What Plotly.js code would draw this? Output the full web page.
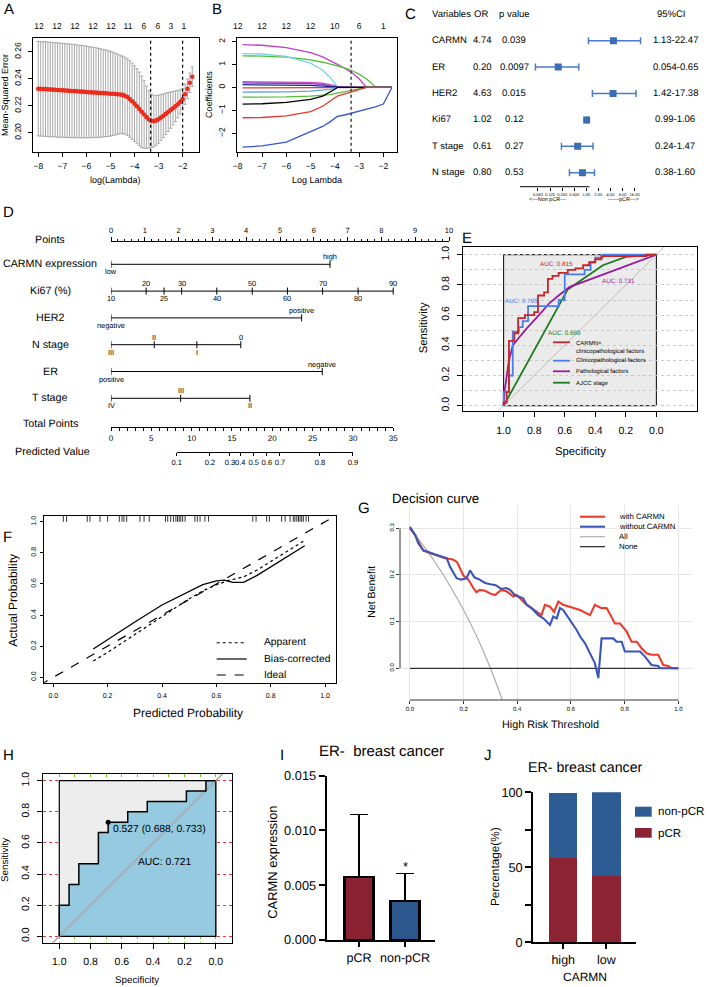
<!DOCTYPE html>
<html>
<head>
<meta charset="utf-8">
<script src="https://cdn.plot.ly/plotly-3.0.1.min.js"></script>
<style>
html,body{margin:0;padding:0;background:#ffffff;}
#chart{width:709px;height:987px;}
svg text{text-rendering:geometricPrecision;}
</style>
</head>
<body>
<div id="chart"></div>
<script>
// ================= DATA =================
// A: LASSO cross-validation
const cvLogLambda = [-8.0,-7.9,-7.8,-7.7,-7.6,-7.5,-7.4,-7.3,-7.2,-7.1,-7.0,-6.9,-6.8,-6.7,-6.6,-6.5,-6.4,-6.3,-6.2,-6.1,-6.0,-5.9,-5.8,-5.7,-5.6,-5.5,-5.4,-5.3,-5.2,-5.1,-5.0,-4.9,-4.8,-4.7,-4.6,-4.5,-4.4,-4.3,-4.2,-4.1,-4.0,-3.9,-3.8,-3.7,-3.6,-3.5,-3.4,-3.3,-3.2,-3.1,-3.0,-2.9,-2.8,-2.7,-2.6,-2.5,-2.4,-2.3,-2.2,-2.1,-2.0,-1.9,-1.8,-1.7,-1.6];
const cvMSE = [0.2326,0.2325,0.2324,0.2323,0.2321,0.2320,0.2319,0.2318,0.2316,0.2315,0.2314,0.2313,0.2312,0.2310,0.2309,0.2308,0.2307,0.2305,0.2304,0.2303,0.2302,0.2300,0.2299,0.2298,0.2297,0.2295,0.2294,0.2293,0.2292,0.2290,0.2289,0.2288,0.2287,0.2285,0.2283,0.2280,0.2274,0.2264,0.2250,0.2233,0.2215,0.2196,0.2176,0.2155,0.2135,0.2115,0.2098,0.2088,0.2086,0.2091,0.2100,0.2112,0.2125,0.2139,0.2153,0.2167,0.2181,0.2196,0.2211,0.2228,0.2248,0.2285,0.2325,0.2370,0.2415];
const cvSD = [0.0350,0.0350,0.0350,0.0350,0.0350,0.0350,0.0350,0.0349,0.0349,0.0349,0.0348,0.0348,0.0347,0.0347,0.0346,0.0345,0.0344,0.0343,0.0342,0.0341,0.0340,0.0338,0.0336,0.0334,0.0332,0.0330,0.0327,0.0324,0.0321,0.0318,0.0314,0.0309,0.0303,0.0297,0.0291,0.0287,0.0285,0.0284,0.0284,0.0283,0.0281,0.0278,0.0273,0.0265,0.0250,0.0230,0.0212,0.0199,0.0191,0.0185,0.0178,0.0170,0.0162,0.0153,0.0144,0.0134,0.0124,0.0113,0.0101,0.0089,0.0078,0.0075,0.0073,0.0072,0.0072];
const cvTopPos = [-7.97,-7.22,-6.48,-5.73,-4.98,-4.27,-3.61,-3.03,-2.49,-1.95];
const cvTopDf = ['12','12','12','12','12','11','6','6','3','1'];
const cvLambdaMin = -3.33;
const cvLambda1se = -2.0;

// B: coefficient paths
const pathLogLambda = [-7.8,-7.0,-6.0,-5.0,-4.5,-4.2,-4.0,-3.9,-3.6,-3.3,-3.0,-2.7,-2.3,-2.0,-1.65];
const coefPath01 = [1.87,1.84,1.74,1.52,1.33,1.18,1.07,1.01,0.84,0.65,0.38,0,0,0,0];
const coefPath02 = [1.38,1.37,1.32,1.20,1.10,1.03,0.97,0.94,0.85,0.74,0.58,0.38,0,0,0];
const coefPath03 = [1.48,1.46,1.36,1.06,0.75,0.45,0.18,0,0,0,0,0,0,0,0];
const coefPath04 = [0.25,0.25,0.24,0.22,0.19,0.14,0.08,0.05,0.03,0.02,0.01,0,0,0,0];
const coefPath05 = [0.20,0.20,0.19,0.17,0.13,0.08,0.03,0,0,0,0,0,0,0,0];
const coefPath06 = [0.12,0.12,0.11,0.09,0.06,0.03,0.01,0,0,0,0,0,0,0,0];
const coefPath07 = [-0.02,-0.02,-0.02,-0.02,-0.01,0,0,0,0,0,0,0,0,0,0];
const coefPath08 = [-0.20,-0.20,-0.19,-0.16,-0.12,-0.08,-0.04,0,0,0,0,0,0,0,0];
const coefPath09 = [-0.42,-0.42,-0.41,-0.38,-0.35,-0.31,-0.27,-0.25,-0.19,-0.12,-0.05,0,0,0,0];
const coefPath10 = [-0.73,-0.71,-0.65,-0.52,-0.38,-0.22,-0.08,0,0,0,0,0,0,0,0];
const coefPath11 = [-1.32,-1.31,-1.24,-1.05,-0.82,-0.62,-0.45,-0.38,-0.28,-0.20,-0.10,0,0,0,0];
const coefPath12 = [-2.60,-2.55,-2.38,-1.95,-1.70,-1.50,-1.32,-1.26,-1.20,-1.12,-1.03,-0.95,-0.83,-0.72,0];
const pathColors = ['#C23EC2','#52BE38','#72D5E6','#D04AC8','#8B3CC4','#1B2A8C','#E33A2B','#5BA6EA','#52BE38','#000000','#E33A2B','#3657C8'];
const pathTopPos = [-8,-7,-6,-5,-4,-3,-2];
const pathTopDf = ['12','12','12','12','10','6','1'];

// C: forest plot
const forestVars = ['CARMN','ER','HER2','Ki67','T stage','N stage'];
const forestOR = [4.74,0.20,4.63,1.02,0.61,0.80];
const forestORText = ['4.74','0.20','4.63','1.02','0.61','0.80'];
const forestPText = ['0.039','0.0097','0.015','0.12','0.27','0.53'];
const forestLo = [1.13,0.054,1.42,0.99,0.24,0.38];
const forestHi = [22.47,0.65,17.38,1.06,1.47,1.60];
const forestCIText = ['1.13-22.47','0.054-0.65','1.42-17.38','0.99-1.06','0.24-1.47','0.38-1.60'];
const forestTicks = [0.0625,0.125,0.25,0.5,1,2,4,8,16];
const forestTickText = ['0.063','0.125','0.250','0.500','1.00','2.00','4.00','8.00','16.00'];

// D: nomogram (positions in "Points" units)
const nomoCarmnPts = [0,6.48];   const nomoCarmnLab = ['low','high'];          const nomoCarmnSide = ['below','above'];
const nomoKi67Pts = [0,1.04,1.57,2.09,3.13,4.18,5.22,6.26,7.31,8.35];
const nomoKi67Lab = ['10','20','25','30','40','50','60','70','80','90'];
const nomoKi67Side = ['below','above','below','above','below','above','below','above','below','above'];
const nomoHer2Pts = [0,5.64];    const nomoHer2Lab = ['negative','positive'];  const nomoHer2Side = ['below','above'];
const nomoNPts = [0,1.28,2.54,3.84]; const nomoNLab = ['III','II','I','0'];    const nomoNSide = ['below','above','below','above'];
const nomoErPts = [0,6.25];      const nomoErLab = ['positive','negative'];    const nomoErSide = ['below','above'];
const nomoTPts = [0,2.06,4.11];  const nomoTLab = ['IV','III','II'];           const nomoTSide = ['below','above','below'];
const nomoTotalMax = 35;
const nomoPredPts = [8.15,12.27,14.75,16.03,17.70,19.32,20.95,25.91,30.0];
const nomoPredLab = ['0.1','0.2','0.3','0.4','0.5','0.6','0.7','0.8','0.9'];

// E: ROC curves (specificity, sensitivity)
const rocRedSpec = [1,0.98,0.965,0.93,0.905,0.86,0.80,0.775,0.735,0.71,0.68,0.64,0.58,0.53,0.48,0.44,0.40,0.36,0.065,0];
const rocRedSens = [0,0.02,0.09,0.43,0.48,0.58,0.60,0.62,0.73,0.75,0.84,0.86,0.88,0.90,0.91,0.93,0.95,0.97,0.99,1.0];
const rocBlueSpec = [1,0.965,0.94,0.90,0.875,0.84,0.64,0.60,0.47,0.43,0.40,0.35,0];
const rocBlueSens = [0,0.09,0.20,0.49,0.52,0.56,0.66,0.70,0.87,0.90,0.95,0.98,1.0];
const rocPurpleSpec = [1,0.995,0.965,0.94,0.90,0.85,0.76,0.70,0.64,0.57,0];
const rocPurpleSens = [0,0.09,0.30,0.40,0.45,0.51,0.61,0.68,0.73,0.785,1.0];
const rocGreenSpec = [1,0.58,0.35,0.20,0];
const rocGreenSens = [0,0.77,0.93,0.985,1.0];
const rocAUCText = ['AUC: 0.815','AUC: 0.795','AUC: 0.731','AUC: 0.689'];
const rocLegend = ['CARMN+','clinicopathological factors','Clinicopathological factors','Pathological factors','AJCC stage'];

// F: calibration
const calApparentX = [0.147,0.20,0.30,0.40,0.50,0.55,0.60,0.65,0.70,0.75,0.80,0.85,0.90,0.925];
const calApparentY = [0.105,0.16,0.275,0.39,0.505,0.555,0.595,0.625,0.645,0.69,0.745,0.80,0.855,0.88];
const calBiasX = [0.147,0.20,0.30,0.40,0.50,0.55,0.60,0.63,0.66,0.70,0.75,0.80,0.85,0.90,0.925];
const calBiasY = [0.182,0.24,0.355,0.465,0.555,0.595,0.62,0.625,0.61,0.61,0.655,0.71,0.765,0.82,0.845];
const calIdeal = [-0.05,1.05];
const calRug = [0.037,0.049,0.125,0.135,0.172,0.20,0.243,0.253,0.26,0.27,0.319,0.334,0.353,0.413,0.421,0.432,0.442,0.451,0.457,0.463,0.469,0.476,0.485,0.521,0.53,0.54,0.558,0.571,0.734,0.746,0.785,0.795,0.84,0.853,0.871,0.883,0.889,0.896,0.902,0.908,0.914,0.92,0.93,0.939];

// G: decision curve
const dcaRedX = [0,0.02,0.035,0.05,0.08,0.10,0.13,0.16,0.175,0.19,0.20,0.21,0.22,0.236,0.248,0.26,0.28,0.30,0.317,0.34,0.36,0.385,0.397,0.41,0.429,0.453,0.49,0.503,0.522,0.537,0.553,0.571,0.596,0.634,0.671,0.689,0.714,0.733,0.764,0.783,0.807,0.826,0.845,0.863,0.882,0.90,0.925,0.944,0.963,0.975,1.0];
const dcaRedY = [0.30,0.285,0.268,0.252,0.246,0.242,0.236,0.233,0.228,0.21,0.198,0.195,0.188,0.172,0.163,0.168,0.166,0.16,0.157,0.168,0.165,0.154,0.157,0.15,0.139,0.129,0.114,0.136,0.132,0.121,0.143,0.136,0.132,0.125,0.114,0.136,0.129,0.129,0.096,0.096,0.079,0.057,0.057,0.043,0.032,0.029,0.029,0.007,0.005,0.0,0.0];
const dcaBlueX = [0,0.02,0.031,0.05,0.10,0.137,0.149,0.174,0.19,0.211,0.224,0.24,0.26,0.28,0.30,0.32,0.34,0.36,0.373,0.391,0.404,0.422,0.435,0.453,0.478,0.497,0.522,0.534,0.547,0.559,0.571,0.584,0.602,0.621,0.634,0.652,0.671,0.689,0.702,0.714,0.758,0.770,0.789,0.801,0.857,0.876,0.90,0.925,0.932,1.0];
const dcaBlueY = [0.303,0.285,0.268,0.253,0.243,0.236,0.218,0.193,0.19,0.193,0.21,0.195,0.19,0.183,0.18,0.178,0.17,0.172,0.168,0.157,0.154,0.15,0.136,0.129,0.114,0.107,0.093,0.111,0.107,0.129,0.125,0.114,0.096,0.082,0.068,0.054,0.032,0.011,-0.021,0.064,0.064,0.057,0.057,0.036,0.036,0.025,0.007,0.005,0.0,0.0];
const dcaAllX = [0,0.05,0.10,0.15,0.20,0.25,0.30,0.35];
const dcaAllY = [0.30,0.263,0.222,0.176,0.125,0.067,0.0,-0.077];
const dcaNoneX = [0,1];
const dcaNoneY = [0,0];
const dcaLegend = ['with CARMN','without CARMN','All','None'];

// H: ROC in ER- cohort
const rocHSpec = [1,0.9375,0.875,0.75,0.6875,0.5625,0.4375,0.1875,0.0625,0];
const rocHSens = [0,0.2,0.333,0.467,0.667,0.733,0.8,0.867,0.933,1.0];
const rocHThrSpec = 0.6875, rocHThrSens = 0.733;
const rocHThrText = '0.527 (0.688, 0.733)';
const rocHAUCText = 'AUC: 0.721';

// I: CARMN expression
const barIGroups = ['pCR','non-pCR'];
const barIMean = [0.00575,0.00357];
const barISD = [0.0057,0.0025];

// J: percentage
const barJGroups = ['high','low'];
const barJpCR = [56,44.2];
const barJnonpCR = [43.3,55.8];

// ================= LAYOUT HELPERS =================
const W = 709, H = 987;
const FONT = 'Liberation Sans, Arial, Helvetica, sans-serif';
const PX = v => v / W;
const PY = v => 1 - v / H;
const domX = (a,b) => [PX(a), PX(b)];
const domY = (top,bottom) => [PY(bottom), PY(top)];
function fnt(size, color){ return {family:FONT, size:size, color:color||'#000'}; }
function rax(o){
  const base = {showgrid:false, zeroline:false, showline:true, mirror:true, linecolor:'#000', linewidth:1,
    ticks:'outside', ticklen:4, tickwidth:1, tickcolor:'#000', tickfont:fnt(8.5), tickangle:0};
  return Object.assign(base, o);
}
const annotations = [];
const shapes = [];
function T(text, x, y, size, o){
  annotations.push(Object.assign({text:text, x:PX(x), y:PY(y), xref:'paper', yref:'paper', showarrow:false,
    xanchor:'center', yanchor:'middle', font:fnt(size)}, o||{}));
}
function pline(x0,y0,x1,y1,color,width,dash){
  shapes.push({type:'line', xref:'paper', yref:'paper', x0:PX(x0), y0:PY(y0), x1:PX(x1), y1:PY(y1), line:{color:color, width:width, dash:dash||'solid'}});
}
const traces = [];

// ================= A =================
traces.push({type:'scatter', mode:'markers', x:cvLogLambda, y:cvMSE, xaxis:'x', yaxis:'y', hoverinfo:'skip',
  marker:{color:'#EE2B1E', size:4.6},
  error_y:{type:'data', array:cvSD, visible:true, color:'#A9A9A9', thickness:1, width:1.6}});
traces.push({type:'scatter', x:[], y:[], xaxis:'x2', yaxis:'y'});
[cvLambdaMin, cvLambda1se].forEach(v => shapes.push({type:'line', xref:'x', yref:'y domain', x0:v, x1:v, y0:0, y1:1, line:{color:'#000', width:1.2, dash:'dot'}}));
T('Mean-Squared Error', 5, 95, 9, {textangle:-90});
T('log(Lambda)', 115, 180, 9);

// ================= B =================
const coefPaths = [coefPath01,coefPath02,coefPath03,coefPath04,coefPath05,coefPath06,coefPath07,coefPath08,coefPath09,coefPath10,coefPath11,coefPath12];
coefPaths.forEach((c,i) => traces.push({type:'scatter', mode:'lines', x:pathLogLambda, y:c, xaxis:'x3', yaxis:'y3', hoverinfo:'skip',
  line:{color:pathColors[i], width:1.3}}));
traces.push({type:'scatter', x:[], y:[], xaxis:'x4', yaxis:'y3'});
shapes.push({type:'line', xref:'x3', yref:'y3 domain', x0:cvLambdaMin, x1:cvLambdaMin, y0:0, y1:1, line:{color:'#444', width:1.5, dash:'dot'}});
T('Coefficients', 209, 95, 9, {textangle:-90});
T('Log Lambda', 316.7, 180, 9);

// ================= C =================
const forestRowY = forestVars.map((_,i) => forestVars.length - i);
traces.push({type:'scatter', mode:'markers', x:forestOR, y:forestRowY, xaxis:'x5', yaxis:'y5', hoverinfo:'skip',
  marker:{symbol:'square', size:7, color:'#3B6CB5'},
  error_x:{type:'data', symmetric:false, array:forestHi.map((h,i)=>h-forestOR[i]), arrayminus:forestLo.map((l,i)=>forestOR[i]-l),
    color:'#4A7BC6', thickness:1.5, width:3.5}});
shapes.push({type:'line', xref:'x5', yref:'y5 domain', x0:Math.log10(1), x1:Math.log10(1), y0:0, y1:1, line:{color:'#707070', width:1.2}, layer:'below'});
shapes.push({type:'line', xref:'x5', yref:'y5 domain', x0:Math.log10(forestTicks[0]), x1:Math.log10(forestTicks[forestTicks.length-1]), y0:0, y1:0, line:{color:'#000', width:1}});
T('Variables', 430, 14.3, 9.5, {xanchor:'left'});
T('OR', 481, 14.3, 9.5);
T('p value', 514.5, 14.3, 9.5);
T('95%CI', 671, 14.3, 9.5);
forestVars.forEach((v,i) => {
  annotations.push({text:v, x:PX(430), xref:'paper', y:forestRowY[i], yref:'y5', showarrow:false, xanchor:'left', yanchor:'middle', font:fnt(9.5)});
  annotations.push({text:forestORText[i], x:PX(482), xref:'paper', y:forestRowY[i], yref:'y5', showarrow:false, xanchor:'center', yanchor:'middle', font:fnt(9.5)});
  annotations.push({text:forestPText[i], x:PX(514), xref:'paper', y:forestRowY[i], yref:'y5', showarrow:false, xanchor:'center', yanchor:'middle', font:fnt(9.5)});
  annotations.push({text:forestCIText[i], x:PX(675), xref:'paper', y:forestRowY[i], yref:'y5', showarrow:false, xanchor:'center', yanchor:'middle', font:fnt(9.5)});
});
T('&lt;---Non pCR---', 547.5, 200, 5.5);
T('------pCR---&gt;', 623, 200, 5.5);

// ================= D =================
const nomoRows = [
  {label:'CARMN expression', pts:nomoCarmnPts, lab:nomoCarmnLab, side:nomoCarmnSide},
  {label:'Ki67 (%)', pts:nomoKi67Pts, lab:nomoKi67Lab, side:nomoKi67Side},
  {label:'HER2', pts:nomoHer2Pts, lab:nomoHer2Lab, side:nomoHer2Side},
  {label:'N stage', pts:nomoNPts, lab:nomoNLab, side:nomoNSide},
  {label:'ER', pts:nomoErPts, lab:nomoErLab, side:nomoErSide},
  {label:'T stage', pts:nomoTPts, lab:nomoTLab, side:nomoTSide}
];
nomoRows.forEach((r,i) => {
  traces.push({type:'scatter', mode:'lines', x:[Math.min(...r.pts), Math.max(...r.pts)], y:[i,i], xaxis:'x6', yaxis:'y6', hoverinfo:'skip', line:{color:'#000', width:1}});
  traces.push({type:'scatter', mode:'markers', x:r.pts, y:r.pts.map(()=>i), xaxis:'x6', yaxis:'y6', hoverinfo:'skip',
    marker:{symbol:'line-ns', size:5, color:'#000', line:{color:'#000', width:1}}});
  r.pts.forEach((p,k) => {
    const up = r.side[k] === 'above';
    annotations.push({text:r.lab[k], x:p, y:i, xref:'x6', yref:'y6', showarrow:false, xanchor:'center',
      yanchor: up ? 'bottom' : 'top', yshift: up ? 1 : -1, font:fnt(7.4)});
  });
  annotations.push({text:r.label, x:PX(50), xref:'paper', y:i, yref:'y6', showarrow:false, xanchor:'center', yanchor:'middle', font:fnt(10.7)});
});
traces.push({type:'scatter', x:[], y:[], xaxis:'x7', yaxis:'y6'});
traces.push({type:'scatter', x:[], y:[], xaxis:'x8', yaxis:'y6'});
T('Points', 50, 240, 10.7);
T('Total Points', 50, 424.3, 10.7);
T('Predicted Value', 52, 451.7, 10.7);
const totPx = v => 111 + v * (393.3 - 111) / nomoTotalMax;

// ================= E =================
traces.push({type:'scatter', mode:'lines', x:[1.4,-0.4], y:[-0.4,1.4], xaxis:'x9', yaxis:'y9', hoverinfo:'skip', line:{color:'#BDBDBD', width:1}});
const rocSets = [
  [rocGreenSpec, rocGreenSens, '#1E7B1E', 'linear'],
  [rocPurpleSpec, rocPurpleSens, '#9A1C9A', 'linear'],
  [rocBlueSpec, rocBlueSens, '#4A7EEE', 'vh'],
  [rocRedSpec, rocRedSens, '#C52626', 'vh']
];
rocSets.forEach(s => traces.push({type:'scatter', mode:'lines', x:s[0], y:s[1], xaxis:'x9', yaxis:'y9', hoverinfo:'skip', line:{color:s[2], width:1.8, shape:s[3]}}));
shapes.push({type:'rect', xref:'x9', yref:'y9', x0:0, x1:1, y0:0, y1:1, fillcolor:'#EBEBEB', line:{color:'#000', width:1}, layer:'below'});
const rocLabColors = ['#C52626','#4A7EEE','#9A1C9A','#1E7B1E'];
const rocLabPos = [[0.655,0.932],[0.884,0.689],[0.251,0.821],[0.60,0.479]];
rocAUCText.forEach((t,i) => annotations.push({text:t, x:rocLabPos[i][0], y:rocLabPos[i][1], xref:'x9', yref:'y9', showarrow:false, font:fnt(6.3, rocLabColors[i])}));
pline(553, 342.3, 570, 342.3, '#C52626', 1.8);
pline(553, 360.7, 570, 360.7, '#4A7EEE', 1.8);
pline(553, 371.3, 570, 371.3, '#9A1C9A', 1.8);
pline(553, 382.7, 570, 382.7, '#1E7B1E', 1.8);
T(rocLegend[0], 574, 343.3, 6, {xanchor:'left'});
T(rocLegend[1], 574, 351.3, 6, {xanchor:'left'});
T(rocLegend[2], 574, 360.7, 6, {xanchor:'left'});
T(rocLegend[3], 574, 371.3, 6, {xanchor:'left'});
T(rocLegend[4], 574, 383.7, 6, {xanchor:'left'});
T('Sensitivity', 424.3, 328, 11.3, {textangle:-90});
T('Specificity', 580, 452.3, 11.3);
const unitTicks = [0,0.2,0.4,0.6,0.8,1.0];

// ================= F =================
traces.push({type:'scatter', mode:'lines', x:calIdeal, y:calIdeal, xaxis:'x10', yaxis:'y10', hoverinfo:'skip', line:{color:'#000', width:1.2, dash:'dash'}});
traces.push({type:'scatter', mode:'lines', x:calApparentX, y:calApparentY, xaxis:'x10', yaxis:'y10', hoverinfo:'skip', line:{color:'#000', width:1.2, dash:'dot'}});
traces.push({type:'scatter', mode:'lines', x:calBiasX, y:calBiasY, xaxis:'x10', yaxis:'y10', hoverinfo:'skip', line:{color:'#000', width:1.3}});
traces.push({type:'scatter', mode:'markers', x:calRug, y:calRug.map(()=>1.022), xaxis:'x10', yaxis:'y10', hoverinfo:'skip',
  marker:{symbol:'line-ns', size:5, color:'#000', line:{color:'#000', width:0.8}}});
pline(216.7, 642.7, 246.7, 642.7, '#000', 1.1, 'dot');
pline(216.7, 659, 246.7, 659, '#000', 1.2);
pline(216.7, 675, 246.7, 675, '#000', 1.1, 'dash');
T('Apparent', 261.7, 642.7, 10.3, {xanchor:'left'});
T('Bias-corrected', 261.7, 659, 10.3, {xanchor:'left'});
T('Ideal', 261.7, 675, 10.3, {xanchor:'left'});
T('Actual Probability', 12.7, 600, 12, {textangle:-90});
T('Predicted Probability', 188, 713, 12);

// ================= G =================
traces.push({type:'scatter', mode:'lines', x:dcaAllX, y:dcaAllY, xaxis:'x11', yaxis:'y11', hoverinfo:'skip', line:{color:'#A8A8A8', width:1.1, shape:'spline'}});
traces.push({type:'scatter', mode:'lines', x:dcaNoneX, y:dcaNoneY, xaxis:'x11', yaxis:'y11', hoverinfo:'skip', line:{color:'#333', width:1.3}});
traces.push({type:'scatter', mode:'lines', x:dcaRedX, y:dcaRedY, xaxis:'x11', yaxis:'y11', hoverinfo:'skip', line:{color:'#EE3A2A', width:2.1}});
traces.push({type:'scatter', mode:'lines', x:dcaBlueX, y:dcaBlueY, xaxis:'x11', yaxis:'y11', hoverinfo:'skip', line:{color:'#3A57B8', width:2.1}});
const dcaXTicks = [0,0.2,0.4,0.6,0.8,1.0];
const dcaYTicks = [0,0.1,0.2,0.3];
shapes.push({type:'line', xref:'x11', yref:'y11 domain', x0:dcaXTicks[0], x1:dcaXTicks[dcaXTicks.length-1], y0:0, y1:0, line:{color:'#333', width:1}});
shapes.push({type:'line', xref:'x11 domain', yref:'y11', x0:0, x1:0, y0:dcaYTicks[0], y1:dcaYTicks[dcaYTicks.length-1], line:{color:'#333', width:1}});
pline(580, 516.7, 605, 516.7, '#EE3A2A', 2.1);
pline(580, 526.7, 605, 526.7, '#3A57B8', 2.1);
pline(580, 536.7, 605, 536.7, '#A8A8A8', 1.1);
pline(580, 546.7, 605, 546.7, '#111', 1.1);
dcaLegend.forEach((t,i) => T(t, 617.3, 516.7 + 10*i, 7.8, {xanchor:'left'}));
T('Decision curve', 390, 498.3, 13.3, {xanchor:'left'});
T('Net Benefit', 371.7, 592, 10.5, {textangle:-90});
T('High Risk Threshold', 550, 725, 10.8);

// ================= H =================
traces.push({type:'scatter', mode:'lines', x:[1,0,0,1,1], y:[0,0,1,1,0], xaxis:'x12', yaxis:'y12', hoverinfo:'skip', fill:'toself', fillcolor:'#EDEDED', line:{color:'#000', width:1.2}});
traces.push({type:'scatter', mode:'lines', x:rocHSpec, y:rocHSens, xaxis:'x12', yaxis:'y12', hoverinfo:'skip', fill:'tozeroy', fillcolor:'#95CAE0', line:{color:'rgba(0,0,0,0)', width:0, shape:'vh'}});
traces.push({type:'scatter', mode:'lines', x:[1,0,0], y:[0,0,1], xaxis:'x12', yaxis:'y12', hoverinfo:'skip', line:{color:'#000', width:1.2}});
traces.push({type:'scatter', mode:'lines', x:[1.2,-0.2], y:[-0.2,1.2], xaxis:'x12', yaxis:'y12', hoverinfo:'skip', line:{color:'#A9A9A9', width:1.5}});
traces.push({type:'scatter', mode:'lines', x:rocHSpec, y:rocHSens, xaxis:'x12', yaxis:'y12', hoverinfo:'skip', line:{color:'#000', width:1.5, shape:'vh'}});
traces.push({type:'scatter', mode:'markers', x:[rocHThrSpec], y:[rocHThrSens], xaxis:'x12', yaxis:'y12', hoverinfo:'skip', marker:{color:'#000', size:5}});
annotations.push({text:rocHThrText, x:rocHThrSpec, y:rocHThrSens, xref:'x12', yref:'y12', showarrow:false, xanchor:'left', yanchor:'middle', xshift:3, yshift:-7, font:fnt(10.3)});
annotations.push({text:rocHAUCText, x:0.327, y:0.477, xref:'x12', yref:'y12', showarrow:false, font:fnt(10.3)});
T('Sensitivity', 5, 860, 9.8, {textangle:-90});
T('Specificity', 137, 980, 9.8);

// ================= I =================
traces.push({type:'bar', x:barIGroups, y:barIMean, xaxis:'x13', yaxis:'y13', width:0.64, hoverinfo:'skip',
  marker:{color:['#8B2232','#2B578D'], line:{color:'#000', width:2.6}},
  error_y:{type:'data', symmetric:false, array:barISD, arrayminus:barISD.map(()=>0), color:'#000', thickness:1.5, width:9}});
annotations.push({text:'*', x:barIGroups[1], y:barIMean[1]+barISD[1], xref:'x13', yref:'y13', showarrow:false, yanchor:'bottom', yshift:-2, font:fnt(13)});
T('ER-  breast cancer', 381.7, 751, 15);
T('CARMN expression', 271.7, 862, 12.9, {textangle:-90});

// ================= J =================
traces.push({type:'bar', x:barJGroups, y:barJpCR, xaxis:'x14', yaxis:'y14', width:0.66, hoverinfo:'skip', marker:{color:'#8C2333'}});
traces.push({type:'bar', x:barJGroups, y:barJnonpCR, xaxis:'x14', yaxis:'y14', width:0.66, hoverinfo:'skip', marker:{color:'#2D5C94'}});
T('ER- breast cancer', 585.3, 768.3, 14.2);
T('Percentage(%)', 495, 867, 11.8, {textangle:-90});
T('CARMN', 585, 977, 12);
shapes.push({type:'rect', xref:'paper', yref:'paper', x0:PX(635), x1:PX(651.7), y0:PY(816.7), y1:PY(806.7), fillcolor:'#2D5C94', line:{width:0}});
shapes.push({type:'rect', xref:'paper', yref:'paper', x0:PX(635), x1:PX(651.7), y0:PY(837.7), y1:PY(828), fillcolor:'#8C2333', line:{width:0}});
T('non-pCR', 657, 811.7, 11.6, {xanchor:'left', borderpad:0});
T('pCR', 657, 833, 11.6, {xanchor:'left', borderpad:0});

// ================= Panel letters =================
[['A',8.7,9],['B',216.7,9],['C',410.8,14.5],['D',8,212],['E',467,238],['F',7.5,537],['G',363.8,509],['H',8.3,755],['I',281.7,755.3],['J',487.5,755.3]]
  .forEach(l => T(l[0], l[1], l[2], 15));

// ================= LAYOUT =================
const layout = {
  width:W, height:H, margin:{l:0,r:0,t:0,b:0}, paper_bgcolor:'#ffffff', plot_bgcolor:'rgba(0,0,0,0)',
  showlegend:false, barmode:'stack', font:fnt(10), hovermode:false,
  // A
  xaxis: rax({domain:domX(33,199), range:[-8.22,-1.32], anchor:'y', tickvals:[-8,-7,-6,-5,-4,-3,-2], ticklabelstandoff:2}),
  yaxis: rax({domain:domY(37.7,151.7), range:[0.1859,0.2704], anchor:'x', tickvals:[0.20,0.22,0.24,0.26], tickformat:'.2f', tickangle:-90, ticklabelstandoff:4}),
  xaxis2: {overlaying:'x', side:'top', anchor:'y', range:[-8.22,-1.32], tickvals:cvTopPos, ticktext:cvTopDf, ticks:'', showline:false, showgrid:false, zeroline:false, tickfont:fnt(8.5), tickangle:0, ticklabelstandoff:6},
  // B
  xaxis3: rax({domain:domX(236.5,397), range:[-8.05,-1.44], anchor:'y3', tickvals:[-8,-7,-6,-5,-4,-3,-2], ticklabelstandoff:2}),
  yaxis3: rax({domain:domY(37.7,151.7), range:[-2.80,2.17], anchor:'x3', tickvals:[-2,-1,0,1,2], tickangle:-90, ticklabelstandoff:3}),
  xaxis4: {overlaying:'x3', side:'top', anchor:'y3', range:[-8.05,-1.44], tickvals:pathTopPos, ticktext:pathTopDf, ticks:'', showline:false, showgrid:false, zeroline:false, tickfont:fnt(8.5), tickangle:0, ticklabelstandoff:6},
  // C
  xaxis5: {type:'log', domain:domX(520,650), range:[(520-586.3)/40.13,(650-586.3)/40.13], anchor:'y5', showline:false, showgrid:false, zeroline:false,
    tickvals:forestTicks, ticktext:forestTickText, tickangle:0, ticks:'outside', ticklen:3, tickcolor:'#000', tickwidth:1, tickfont:fnt(4)},
  yaxis5: {domain:domY(26.7,186.7), range:[0.47,6.53], anchor:'x5', visible:false},
  // D
  xaxis6: {domain:domX(111,449), range:[0,10], anchor:'free', position:PY(241), side:'top', showline:true, linecolor:'#000', linewidth:1,
    ticks:'outside', ticklen:4, tickcolor:'#000', tickwidth:1, tick0:0, dtick:1, tickangle:0, minor:{dtick:0.2, ticks:'outside', ticklen:2, tickcolor:'#000', showgrid:false},
    showgrid:false, zeroline:false, tickfont:fnt(7.5), ticklabelstandoff:1},
  yaxis6: {domain:domY(250.9,411.7), range:[5.5,-0.5], anchor:'x6', visible:false},
  xaxis7: {domain:domX(111,393.3), range:[0,nomoTotalMax], anchor:'free', position:PY(427.3), side:'bottom', showline:true, linecolor:'#000', linewidth:1,
    ticks:'outside', ticklen:3, tickcolor:'#000', tickwidth:1, tick0:0, dtick:5, tickangle:0, minor:{dtick:1, ticks:'outside', ticklen:3, tickcolor:'#000', showgrid:false},
    showgrid:false, zeroline:false, tickfont:fnt(8)},
  xaxis8: {domain:[PX(totPx(nomoPredPts[0])), PX(totPx(nomoPredPts[nomoPredPts.length-1]))], range:[nomoPredPts[0], nomoPredPts[nomoPredPts.length-1]],
    anchor:'free', position:PY(451.7), side:'bottom', showline:true, linecolor:'#000', linewidth:1, tickvals:nomoPredPts, ticktext:nomoPredLab, tickangle:0,
    ticks:'outside', ticklen:3, tickcolor:'#000', tickwidth:1, showgrid:false, zeroline:false, tickfont:fnt(7.6)},
  // E
  xaxis9: rax({domain:domX(463.3,696.7), range:[1.264,-0.264], anchor:'y9', tickvals:unitTicks, tickformat:'.1f', ticklen:5, tickfont:fnt(10.5), ticklabelstandoff:5}),
  yaxis9: rax({domain:domY(246.7,410.7), range:[-0.033,1.053], anchor:'x9', tickvals:unitTicks, tickformat:'.1f', tickangle:-90, ticklen:5, tickfont:fnt(10.5), ticklabelstandoff:4,
    showgrid:true, gridcolor:'#C9C9C9', griddash:'dot', gridwidth:1, minor:{tick0:0, dtick:0.1, showgrid:true, gridcolor:'#C9C9C9', griddash:'dot', gridwidth:1, ticks:''}}),
  // F
  xaxis10: rax({domain:domX(44.3,335.7), range:[-0.033,1.039], anchor:'y10', tickvals:unitTicks, tickformat:'.1f', ticklen:3, tickfont:fnt(7), ticklabelstandoff:2}),
  yaxis10: rax({domain:domY(515.7,683.3), range:[-0.0386,1.0386], anchor:'x10', tickvals:unitTicks, tickformat:'.1f', tickangle:-90, ticklen:3, tickfont:fnt(7), ticklabelstandoff:2}),
  // G
  xaxis11: {domain:domX(400,692), range:[-0.037,1.051], anchor:'y11', showline:false, zeroline:false, showgrid:true, gridcolor:'#E6E6E6', gridwidth:1,
    tickvals:dcaXTicks, tickformat:'.1f', tickangle:0, ticks:'outside', ticklen:3, tickcolor:'#333', tickfont:fnt(6)},
  yaxis11: {domain:domY(505,700), range:[-0.068,0.35], anchor:'x11', showline:false, zeroline:false, showgrid:true, gridcolor:'#E6E6E6', gridwidth:1,
    tickvals:dcaYTicks, tickformat:'.1f', ticks:'outside', ticklen:3, tickcolor:'#333', tickangle:-90, tickfont:fnt(6)},
  // H
  xaxis12: rax({domain:domX(42.7,232.3), range:[1.106,-0.106], anchor:'y12', tickvals:unitTicks, tickformat:'.1f', ticklen:5, tickfont:fnt(10.5), ticklabelstandoff:4,
    showgrid:true, gridcolor:'#76C42E', griddash:'dot', gridwidth:1, minor:{tick0:0, dtick:0.1, showgrid:true, gridcolor:'#76C42E', griddash:'dot', gridwidth:1, ticks:''}}),
  yaxis12: rax({domain:domY(774,942.7), range:[-0.041,1.043], anchor:'x12', tickvals:unitTicks, tickformat:'.1f', tickangle:-90, ticklen:5, tickfont:fnt(10.5), ticklabelstandoff:4,
    showgrid:true, gridcolor:'#FF3030', griddash:'dot', gridwidth:1}),
  // I
  xaxis13: {type:'category', domain:domX(326.7,435), range:[-0.7,1.65], anchor:'y13', showline:true, linecolor:'#000', linewidth:2, showgrid:false, zeroline:false,
    ticks:'outside', ticklen:5, tickwidth:2, tickcolor:'#000', tickangle:0, tickfont:fnt(12.5)},
  yaxis13: {domain:domY(775.7,940), range:[0,0.015], anchor:'x13', showline:true, linecolor:'#000', linewidth:2, showgrid:false, zeroline:false,
    tickvals:[0,0.005,0.010,0.015], tickformat:'.3f', ticks:'outside', ticklen:6, tickwidth:2, tickcolor:'#000', tickfont:fnt(12.8)},
  // J
  xaxis14: {type:'category', domain:domX(533.3,636), range:[-0.694,1.689], anchor:'y14', showline:true, linecolor:'#000', linewidth:2, showgrid:false, zeroline:false,
    ticks:'outside', ticklen:5, tickwidth:2, tickcolor:'#000', tickangle:0, tickfont:fnt(12.5)},
  yaxis14: {domain:domY(792.3,942.3), range:[0,100], anchor:'x14', showline:true, linecolor:'#000', linewidth:2, showgrid:false, zeroline:false,
    tickvals:[0,25,50,75,100], ticktext:['0','','50','','100'], ticks:'outside', ticklen:6, tickwidth:2, tickcolor:'#000', tickfont:fnt(12.8)},
  annotations: annotations,
  shapes: shapes
};

Plotly.newPlot('chart', traces, layout, {staticPlot:true, displayModeBar:false});
</script>
</body>
</html>
